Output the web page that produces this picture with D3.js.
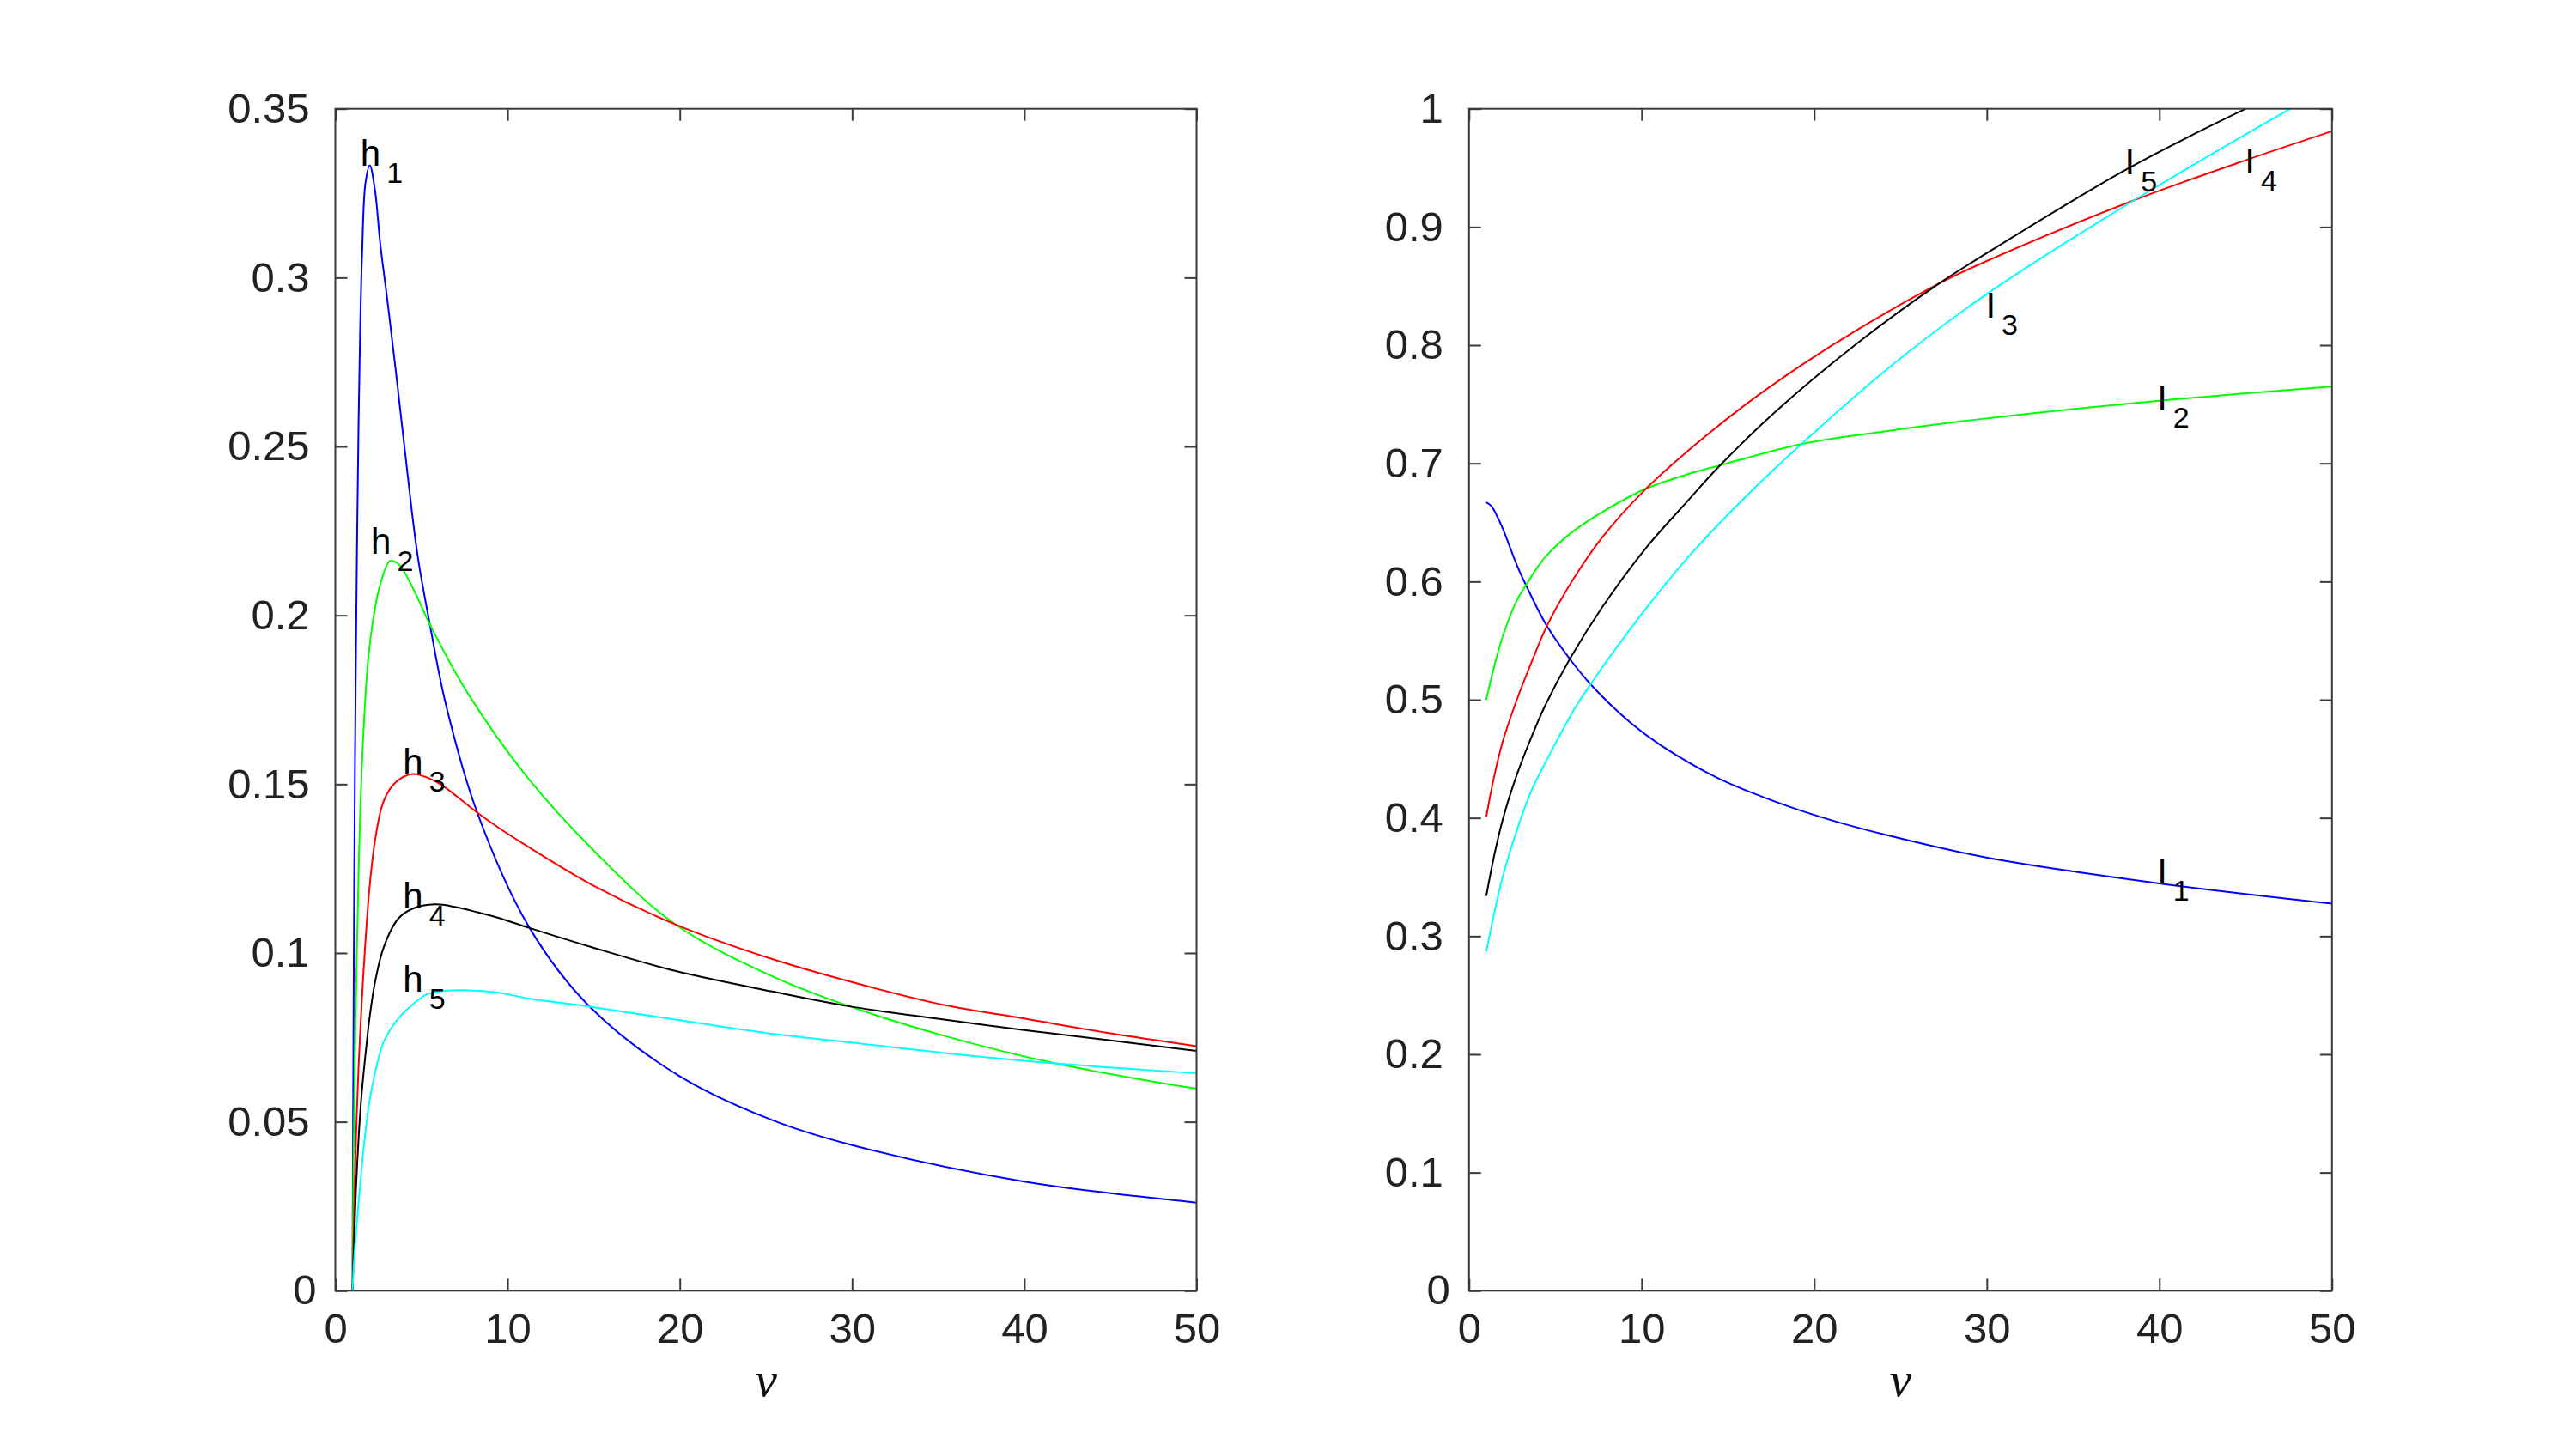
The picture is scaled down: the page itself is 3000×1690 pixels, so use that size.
<!DOCTYPE html>
<html>
<head>
<meta charset="utf-8">
<script src="https://cdn.jsdelivr.net/npm/d3@7"></script>
<style>
  html, body { margin: 0; padding: 0; background: #fff; }
  svg { display: block; }
</style>
</head>
<body>
<script>
// ---------------- data ----------------
const nuTicks = [0, 10, 20, 30, 40, 50];
const hTicks = [0, 0.05, 0.1, 0.15, 0.2, 0.25, 0.3, 0.35];
const hTickLabels = ["0", "0.05", "0.1", "0.15", "0.2", "0.25", "0.3", "0.35"];
const iTicks = [0, 0.1, 0.2, 0.3, 0.4, 0.5, 0.6, 0.7, 0.8, 0.9, 1];
const iTickLabels = ["0", "0.1", "0.2", "0.3", "0.4", "0.5", "0.6", "0.7", "0.8", "0.9", "1"];
const xLabel = "ν";

// left panel: h_n(nu)  [nu, h]
const h1 = [[1,0],[1.02,0.035],[1.05,0.07],[1.09,0.115],[1.14,0.155],[1.2,0.19],[1.27,0.225],[1.35,0.257],[1.44,0.284],[1.56,0.308],[1.75,0.328],[2.0,0.3333],[2.3,0.326],[2.61,0.31],[3.03,0.293],[3.61,0.268],[4.19,0.242],[4.77,0.218],[5.5,0.197],[6.4,0.174],[8.23,0.1417],[11.28,0.1074],[14.77,0.0841],[19.96,0.0636],[25.37,0.0505],[30,0.0431],[40,0.0323],[50,0.0261]];
const h2 = [[1,0],[1.05,0.035],[1.1,0.055],[1.16,0.075],[1.23,0.095],[1.31,0.114],[1.44,0.1407],[1.64,0.166],[1.89,0.186],[2.22,0.1995],[2.6,0.209],[3.17,0.2161],[3.6,0.2155],[4.02,0.2127],[4.7,0.206],[5.52,0.197],[7.68,0.177],[11.15,0.152],[14.97,0.1305],[19.73,0.1085],[25.37,0.0931],[29.86,0.0842],[35.34,0.0755],[41.82,0.0673],[50,0.0598]];
const h3 = [[1,0],[1.05,0.013],[1.1,0.025],[1.2,0.045],[1.34,0.065],[1.51,0.083],[1.73,0.102],[1.98,0.119],[2.31,0.1335],[2.81,0.145],[3.5,0.1505],[4.47,0.153],[5.2,0.1522],[6.1,0.15],[8.26,0.1415],[9.42,0.1373],[11.15,0.1316],[14.97,0.12],[19.73,0.1085],[25.37,0.0982],[29.98,0.0914],[35.34,0.0846],[39.98,0.0806],[45,0.0762],[50,0.0724]];
const h4 = [[1,0],[1.1,0.016],[1.2,0.03],[1.35,0.045],[1.5,0.0565],[1.64,0.0644],[1.81,0.0728],[1.98,0.0805],[2.31,0.0915],[2.81,0.1017],[3.64,0.1101],[4.47,0.1131],[5.8,0.1144],[7,0.1136],[8.3,0.112],[9.42,0.1105],[11.28,0.1074],[14.97,0.1016],[19.73,0.0947],[25.37,0.0886],[29.86,0.0842],[35.34,0.0803],[39.98,0.0772],[45,0.0741],[50,0.071]];
const h5 = [[1,0],[1.1,0.01],[1.35,0.026],[1.64,0.042],[1.95,0.055],[2.22,0.0625],[2.47,0.068],[2.81,0.0737],[3.64,0.0805],[4.47,0.0847],[5.3,0.0877],[6.5,0.0889],[7.5,0.089],[9.42,0.0883],[11.15,0.0866],[14.77,0.0841],[19.73,0.0803],[25.37,0.0761],[29.6,0.0737],[35.34,0.0704],[41.82,0.0673],[50,0.0644]];

// right panel: I_n(nu)  [nu, I]
const i1 = [[1,0.667],[1.29,0.664],[1.62,0.6555],[1.95,0.645],[2.77,0.614],[3.3,0.597],[4.51,0.5624],[5.84,0.5345],[7.11,0.512],[9.4,0.48],[11.06,0.462],[14.38,0.434],[17.7,0.414],[21,0.398],[24.33,0.385],[29.97,0.3665],[40,0.3446],[50,0.3275]];
const i2 = [[1,0.5],[1.44,0.527],[1.94,0.553],[2.77,0.584],[3.3,0.597],[4.43,0.621],[6.08,0.643],[7.75,0.659],[10.15,0.678],[12.72,0.691],[14.46,0.698],[19.3,0.7165],[24.33,0.7275],[29.97,0.738],[40,0.753],[50,0.765]];
const iRed = [[1,0.401],[1.44,0.434],[1.94,0.464],[2.77,0.5],[3.6,0.531],[4.51,0.5624],[6.08,0.603],[7.75,0.638],[10.15,0.677],[12.72,0.711],[16.04,0.75],[19.35,0.784],[22.5,0.813],[27.22,0.852],[29.97,0.871],[38.53,0.9226],[45.1,0.957],[50,0.981]];
const iBlack = [[1,0.334],[1.44,0.367],[1.94,0.398],[2.77,0.4365],[3.6,0.4678],[4.43,0.4956],[5.84,0.5345],[7.75,0.579],[10.23,0.628],[12.72,0.669],[14.46,0.697],[17.7,0.743],[22.5,0.8016],[27.22,0.852],[29.97,0.8776],[38.24,0.95],[45,1.0]];
const iCyan = [[1,0.287],[1.44,0.318],[1.94,0.3496],[2.77,0.3895],[3.6,0.4226],[4.43,0.447],[6.08,0.4915],[7.11,0.5145],[9.4,0.561],[12.72,0.621],[16.04,0.672],[19.27,0.7165],[24.33,0.781],[29.97,0.843],[38.53,0.9226],[47.58,1.0]];

// curve labels: [base, subscript, nu, value]
const hLabels = [["h","1",1.61,0.3332],["h","2",2.22,0.2183],["h","3",4.08,0.153],["h","4",4.08,0.1131],["h","5",4.08,0.0886]];
const iLabels = [["I","5",38.15,0.9446],["I","4",45.1,0.9456],["I","3",30.08,0.8233],["I","2",40.02,0.7445],["I","1",40.02,0.3447]];

// ---------------- drawing ----------------
const W = 3000, H = 1690;
const svg = d3.select("body").append("svg").attr("width", W).attr("height", H)
  .style("background", "#fff");

const yTopPx = 126.7, yBottomPx = 1503.3;
const panels = [
  { x0: 390.5, x1: 1393.5, yMax: 0.35, ticks: hTicks, tickLabels: hTickLabels,
    series: [[h1,"#0000ff"],[h2,"#00ff00"],[h3,"#ff0000"],[h4,"#000000"],[h5,"#00ffff"]],
    labels: hLabels, id: "L" },
  { x0: 1710.8, x1: 2715.8, yMax: 1, ticks: iTicks, tickLabels: iTickLabels,
    series: [[i1,"#0000ff"],[i2,"#00ff00"],[iRed,"#ff0000"],[iBlack,"#000000"],[iCyan,"#00ffff"]],
    labels: iLabels, id: "R" }
];

const axisColor = "#3a3a3a";
const fontTick = "'Liberation Sans', Arial, Helvetica, sans-serif";

panels.forEach(p => {
  const x = d3.scaleLinear().domain([0, 50]).range([p.x0, p.x1]);
  const y = d3.scaleLinear().domain([0, p.yMax]).range([yBottomPx, yTopPx]);
  const g = svg.append("g");

  g.append("clipPath").attr("id", "clip" + p.id)
    .append("rect").attr("x", p.x0).attr("y", yTopPx)
    .attr("width", p.x1 - p.x0).attr("height", yBottomPx - yTopPx);

  const line = d3.line().x(d => x(d[0])).y(d => y(d[1])).curve(d3.curveCatmullRom.alpha(0.5));
  const cg = g.append("g").attr("clip-path", `url(#clip${p.id})`);
  p.series.forEach(([data, color]) => {
    cg.append("path").datum(data).attr("d", line)
      .attr("fill", "none").attr("stroke", color).attr("stroke-width", 2);
  });

  const tickLen = 14;
  const fmt = (d) => p.tickLabels[p.ticks.indexOf(d)];
  const ax = [
    g.append("g").attr("transform", `translate(${p.x0},0)`)
      .call(d3.axisLeft(y).tickValues(p.ticks).tickFormat(fmt).tickSize(-tickLen).tickPadding(30)),
    g.append("g").attr("transform", `translate(${p.x1},0)`)
      .call(d3.axisRight(y).tickValues(p.ticks).tickFormat("").tickSize(-tickLen)),
    g.append("g").attr("transform", `translate(0,${yBottomPx})`)
      .call(d3.axisBottom(x).tickValues(nuTicks).tickFormat(d3.format("d")).tickSize(-tickLen).tickPadding(26)),
    g.append("g").attr("transform", `translate(0,${yTopPx})`)
      .call(d3.axisTop(x).tickValues(nuTicks).tickFormat("").tickSize(-tickLen))
  ];
  ax.forEach(a => {
    a.select(".domain").remove();
    a.selectAll(".tick line").attr("stroke", axisColor).attr("stroke-width", 2);
    a.selectAll(".tick text").attr("font-family", fontTick).attr("font-size", 49).attr("fill", "#222");
  });
  ax[0].selectAll(".tick text").filter(d => d === 0).attr("x", -22);

  g.append("rect").attr("x", p.x0).attr("y", yTopPx)
    .attr("width", p.x1 - p.x0).attr("height", yBottomPx - yTopPx)
    .attr("fill", "none").attr("stroke", axisColor).attr("stroke-width", 2);

  g.append("text").attr("x", (p.x0 + p.x1) / 2).attr("y", 1626)
    .attr("text-anchor", "middle")
    .attr("font-family", "'Liberation Serif', 'Times New Roman', serif")
    .attr("font-style", "italic").attr("font-size", 58).attr("fill", "#111")
    .text(xLabel);

  p.labels.forEach(([base, sub, nu, v]) => {
    const t = g.append("text").attr("x", x(nu) - 3).attr("y", y(v))
      .attr("font-family", fontTick).attr("font-size", 42).attr("fill", "#000");
    t.append("tspan").text(base);
    t.append("tspan").attr("dx", 7).attr("dy", 20).attr("font-size", 34).text(sub);
  });
});
</script>
</body>
</html>
